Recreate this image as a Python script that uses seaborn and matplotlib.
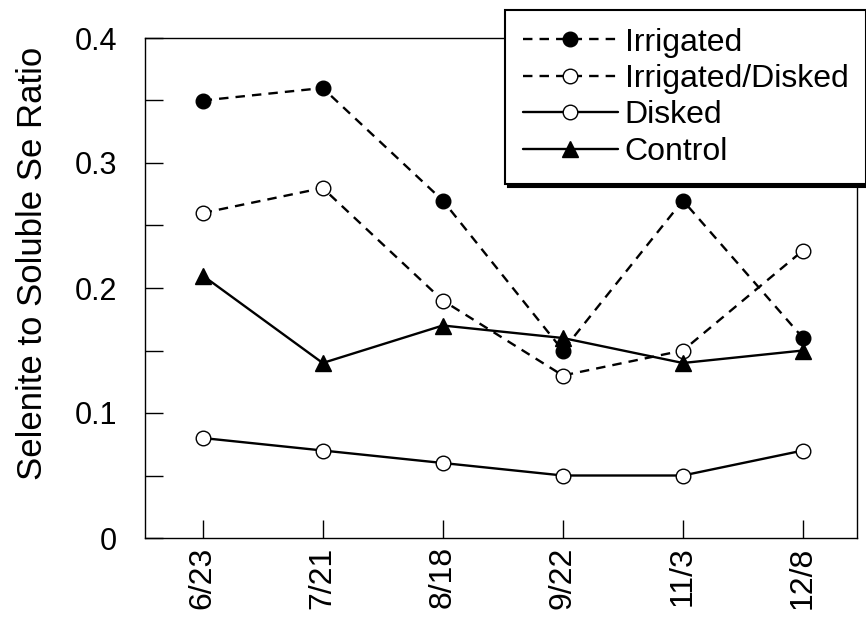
import matplotlib
matplotlib.use("Agg")
import matplotlib.pyplot as plt
import seaborn as sns
import pandas as pd
from matplotlib.ticker import MultipleLocator

dates = ["6/23", "7/21", "8/18", "9/22", "11/3", "12/8"]
irrigated = [0.35, 0.36, 0.27, 0.15, 0.27, 0.16]
irrigated_disked = [0.26, 0.28, 0.19, 0.13, 0.15, 0.23]
disked = [0.08, 0.07, 0.06, 0.05, 0.05, 0.07]
control = [0.21, 0.14, 0.17, 0.16, 0.14, 0.15]

sns.set_style("ticks")
plt.rcParams['font.family'] = ['Liberation Sans', 'DejaVu Sans']
plt.rcParams['text.color'] = 'black'
plt.rcParams['axes.labelcolor'] = 'black'
plt.rcParams['xtick.color'] = 'black'
plt.rcParams['ytick.color'] = 'black'

fig = plt.figure(figsize=(8.66, 6.17), dpi=100)
ax = fig.add_axes([145/866, 1-538/617, (857-145)/866, (538-38)/617])

x = list(range(len(dates)))
series = [
    ("Irrigated", irrigated, (0, (4, 3)), 'o', 'black'),
    ("Irrigated/Disked", irrigated_disked, (0, (4, 3)), 'o', 'white'),
    ("Disked", disked, '-', 'o', 'white'),
    ("Control", control, '-', '^', 'black'),
]
for name, vals, ls, mk, fc in series:
    df = pd.DataFrame({"x": x, "y": vals})
    sns.lineplot(data=df, x="x", y="y", ax=ax, color='black', linestyle=ls,
                 linewidth=1.7, marker=mk, markersize=10.5 if mk == 'o' else 11,
                 markerfacecolor=fc, markeredgecolor='black', markeredgewidth=1.0,
                 label=name, zorder=3)

ax.set_xlim(-0.48, 5.45)
ax.set_ylim(0, 0.4)
ax.set_xticks(x)
ax.set_xticklabels(dates, rotation=90, fontsize=23)
ax.yaxis.set_minor_locator(MultipleLocator(0.05))
ax.set_yticks([0, 0.1, 0.2, 0.3, 0.4])
ax.set_yticklabels(["0", "0.1", "0.2", "0.3", "0.4"], fontsize=22)
ax.tick_params(axis='both', which='both', direction='in', length=13, width=1.0, color='black')
ax.tick_params(axis='y', which='major', pad=20)
ax.tick_params(axis='x', which='major', pad=6)
ax.set_xlabel("")
ax.set_ylabel("Selenite to Soluble Se Ratio", fontsize=25)
ax.yaxis.set_label_coords(-0.135, 0.55)
for s in ax.spines.values():
    s.set_visible(True)
    s.set_color('black')
    s.set_linewidth(1.0)

leg = ax.legend(loc='upper left', bbox_to_anchor=(505/866, 1-10/617),
                bbox_transform=fig.transFigure, fontsize=23, frameon=True,
                fancybox=False, shadow={'color': 'black', 'alpha': 1.0},
                handlelength=3.0, handletextpad=0.2, labelspacing=0.2,
                borderpad=0.55, borderaxespad=0)
leg.get_frame().set_edgecolor('black')
leg.get_frame().set_linewidth(1.5)
leg.get_frame().set_facecolor('white')
leg.get_frame().set_alpha(1.0)
leg.set_zorder(10)

fig.savefig("out.png", dpi=100)
